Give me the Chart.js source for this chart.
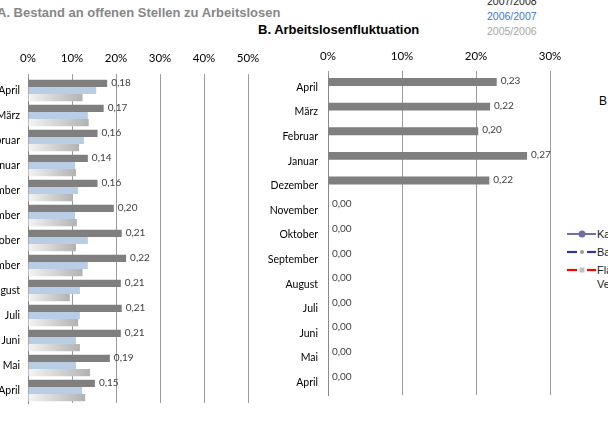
<!DOCTYPE html>
<html><head><meta charset="utf-8">
<script src="https://cdn.jsdelivr.net/npm/chart.js@4/dist/chart.umd.min.js"></script>
<style>
html,body{margin:0;padding:0;background:#fff;}
body{width:608px;height:421px;overflow:hidden;position:relative;font-family:"Liberation Sans",Arial,sans-serif;}
.abs{position:absolute;white-space:nowrap;}
</style></head><body>
<div class="abs" style="left:-3px;top:5px;font-weight:bold;font-size:13px;color:#878787;">A. Bestand an offenen Stellen zu Arbeitslosen</div>
<div class="abs" style="left:258px;top:22px;font-weight:bold;font-size:13px;color:#000;">B. Arbeitslosenfluktuation</div>
<div class="abs" style="left:487px;top:-5px;font-size:10.5px;color:#222;">2007/2008</div>
<div class="abs" style="left:487px;top:10px;font-size:10.5px;color:#3a78d4;">2006/2007</div>
<div class="abs" style="left:487px;top:25px;font-size:10.5px;color:#a6a6a6;">2005/2006</div>
<div class="abs" style="left:599px;top:94px;font-size:12px;color:#000;">B</div>
<svg class="abs" style="left:560px;top:220px;" width="48" height="80">
  <line x1="7" y1="14" x2="36" y2="14" stroke="#6f6fa3" stroke-width="2"/>
  <circle cx="22" cy="14" r="3.5" fill="#6f6fa3"/>
  <line x1="7" y1="32" x2="17" y2="32" stroke="#333399" stroke-width="2.2"/>
  <line x1="27" y1="32" x2="36" y2="32" stroke="#333399" stroke-width="2.2"/>
  <circle cx="22" cy="32" r="2" fill="#999"/>
  <line x1="7" y1="50" x2="17" y2="50" stroke="#ff0000" stroke-width="2.2"/>
  <line x1="27" y1="50" x2="36" y2="50" stroke="#ff0000" stroke-width="2.2"/>
  <rect x="19.5" y="47.5" width="5" height="5" fill="#c0c0c0"/>
</svg>
<div class="abs" style="left:597px;top:227px;font-size:11px;color:#222;line-height:14px;">Ka</div>
<div class="abs" style="left:597px;top:245px;font-size:11px;color:#222;line-height:14px;">Ba</div>
<div class="abs" style="left:597px;top:263px;font-size:11px;color:#222;line-height:14px;">Flä<br>Ve</div>

<div class="abs" style="left:0;top:0;width:262px;height:421px;"><canvas id="cA"></canvas></div>
<div class="abs" style="left:250px;top:0;width:320px;height:421px;"><canvas id="cB"></canvas></div>

<script>
const categories = ['April','März','Februar','Januar','Dezember','November','Oktober','September','August','Juli','Juni','Mai','April'];
const seasons = ['2007/2008','2006/2007','2005/2006'];
const offeneStellen_2007_2008 = [0.18, 0.172, 0.158, 0.136, 0.158, 0.195, 0.213, 0.223, 0.211, 0.213, 0.211, 0.186, 0.152];
const offeneStellen_2006_2007 = [0.155, 0.136, 0.127, 0.107, 0.114, 0.107, 0.136, 0.136, 0.118, 0.118, 0.109, 0.109, 0.123];
const offeneStellen_2005_2006 = [0.124, 0.138, 0.116, 0.109, 0.102, 0.111, 0.109, 0.124, 0.095, 0.114, 0.118, 0.141, 0.130];
const fluktuation_2007_2008 = [0.228, 0.219, 0.203, 0.269, 0.218, 0, 0, 0, 0, 0, 0, 0, 0];
const fluktuation_empty = [null, null, null, null, null, null, null, null, null, null, null, null, null];
const ticksA = [0, 0.1, 0.2, 0.3, 0.4, 0.5];
const ticksB = [0, 0.1, 0.2, 0.3];

Chart.defaults.font.family = 'Lato';
Chart.defaults.animation = false;
Chart.defaults.devicePixelRatio = 1;

const valueLabels = {
  id: 'valueLabels',
  afterDatasetsDraw(chart, args, opts) {
    const c = chart.ctx;
    const meta = chart.getDatasetMeta(0);
    const data = chart.data.datasets[0].data;
    c.save();
    c.font = (opts.size || 10) + 'px Lato';
    c.fillStyle = '#404040';
    c.textBaseline = 'middle';
    c.textAlign = 'left';
    meta.data.forEach((bar, i) => {
      const v = data[i];
      if (v == null) return;
      c.fillText(v.toFixed(2).replace('.', ','), bar.x + 4, bar.y - 1);
    });
    c.restore();
  }
};

function grayGradient(ctx) {
  const chart = ctx.chart;
  if (ctx.dataIndex == null || !chart.chartArea) return '#c8c8c8';
  const v = ctx.dataset.data[ctx.dataIndex];
  const xs = chart.scales.x;
  const x0 = xs.getPixelForValue(0), x1 = xs.getPixelForValue(v);
  const g = chart.ctx.createLinearGradient(x0, 0, Math.max(x1, x0 + 1), 0);
  g.addColorStop(0, '#f4f4f4');
  g.addColorStop(1, '#b2b2b2');
  return g;
}

function pct(v) { return Math.round(v * 100) + '%'; }

function xScale(max, ticks, axisH, pad) {
  return {
    position: 'top', min: 0, max: max,
    afterBuildTicks: s => { s.ticks = ticks.map(v => ({ value: v })); },
    afterFit: s => { s.height = axisH; s.paddingLeft = 0; s.paddingRight = 0; },
    ticks: { callback: pct, color: '#000', font: { size: 11.5 }, padding: pad, maxRotation: 0 },
    grid: { color: '#9c9c9c', lineWidth: 1, drawTicks: true, tickLength: 4, tickColor: '#9c9c9c' },
    border: { display: false }
  };
}
function yScale(w, pad) {
  return {
    afterFit: s => { s.width = w; s.paddingTop = 0; s.paddingBottom = 0; },
    ticks: { color: '#000', font: { size: 10.5 }, padding: pad, autoSkip: false },
    grid: { display: false, drawTicks: false },
    border: { display: true, color: '#888', width: 1 }
  };
}

new Chart(document.getElementById('cA'), {
  type: 'bar',
  data: {
    labels: categories,
    datasets: [
      { label: seasons[0], data: offeneStellen_2007_2008, backgroundColor: '#7f7f7f' },
      { label: seasons[1], data: offeneStellen_2006_2007, backgroundColor: '#b9cde5' },
      { label: seasons[2], data: offeneStellen_2005_2006, backgroundColor: grayGradient }
    ]
  },
  options: {
    indexAxis: 'y', responsive: true, maintainAspectRatio: false,
    layout: { padding: { top: 0, right: 14, bottom: 18, left: 0 } },
    datasets: { bar: { categoryPercentage: 0.86, barPercentage: 1.0, borderWidth: 0 } },
    plugins: { legend: { display: false }, tooltip: { enabled: false }, valueLabels: { size: 10 } },
    scales: { x: xScale(0.5, ticksA, 78, 9), y: yScale(28, 8) }
  },
  plugins: [valueLabels]
});

new Chart(document.getElementById('cB'), {
  type: 'bar',
  data: {
    labels: categories,
    datasets: [
      { label: seasons[0], data: fluktuation_2007_2008, backgroundColor: '#7f7f7f' },
      { label: 'leer', data: fluktuation_empty, backgroundColor: '#b9cde5' }
    ]
  },
  options: {
    indexAxis: 'y', responsive: true, maintainAspectRatio: false,
    layout: { padding: { top: 0, right: 20, bottom: 26, left: 0 } },
    datasets: { bar: { categoryPercentage: 0.86, barPercentage: 0.75, borderWidth: 0 } },
    plugins: { legend: { display: false }, tooltip: { enabled: false }, valueLabels: { size: 10 } },
    scales: { x: xScale(0.3, ticksB, 75, 8), y: yScale(78, 10) }
  },
  plugins: [valueLabels]
});
</script>
</body></html>
